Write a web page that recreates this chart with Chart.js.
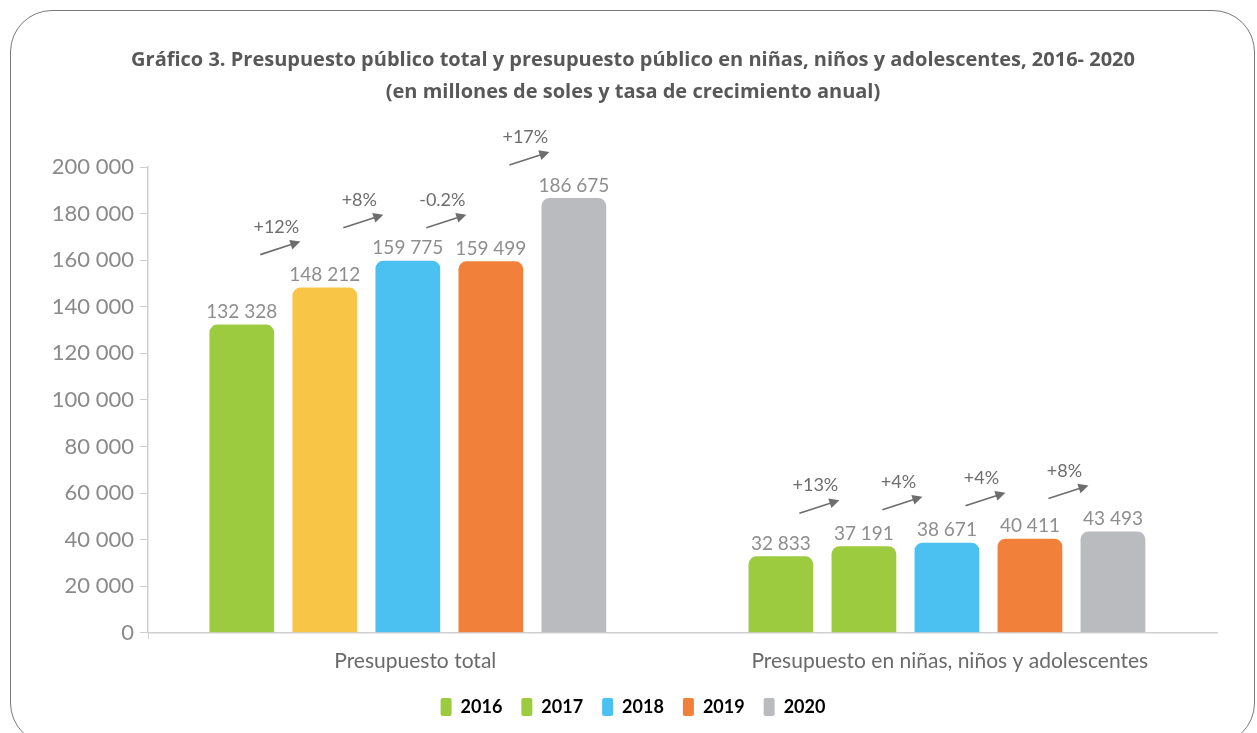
<!DOCTYPE html>
<html>
<head>
<meta charset="utf-8">
<script src="https://cdn.jsdelivr.net/npm/chart.js@4.4.1/dist/chart.umd.min.js"></script>
<style>
  html, body { margin: 0; padding: 0; background: #fff; overflow: hidden; }
  #frame {
    position: absolute; left: 10px; top: 10px; width: 1245px; height: 735px;
    border: 1.3px solid #7a7a7a; border-radius: 42px; box-sizing: border-box;
  }
  #wrap { position: absolute; left: 0; top: 0; width: 1257px; height: 733px; }
</style>
</head>
<body>
<div id="frame"></div>
<div id="wrap"><canvas id="chart"></canvas></div>
<script>
// categorias y series
const groups = ["Presupuesto total", "Presupuesto en niñas, niños y adolescentes"];
const years = ["2016", "2017", "2018", "2019", "2020"];
const v2016 = [132328, 32833];
const v2017 = [148212, 37191];
const v2018 = [159775, 38671];
const v2019 = [159499, 40411];
const v2020 = [186675, 43493];
// tasa de crecimiento anual (entre años consecutivos)
const growthTotal = ["+12%", "+8%", "-0.2%", "+17%"];
const growthNna = ["+13%", "+4%", "+4%", "+8%"];
const yTicks = [0, 20000, 40000, 60000, 80000, 100000, 120000, 140000, 160000, 180000, 200000];

const green = "#9DCB3F", yellow = "#F8C546", blue = "#4BC1F1", orange = "#F0803A", grey = "#B9BBBE";
// en el original, 2017 sale amarillo en el primer grupo y verde en el segundo
const colors = [[green, green], [yellow, green], [blue, blue], [orange, orange], [grey, grey]];
const legendColors = [green, green, blue, orange, grey];

const series = [v2016, v2017, v2018, v2019, v2020];
const fmt = n => String(n).replace(/\B(?=(\d{3})+(?!\d))/g, " ");

const labelsPlugin = {
  id: "labels",
  afterDatasetsDraw(chart) {
    const ctx = chart.ctx;
    ctx.save();
    // valores encima de las barras
    ctx.font = "19px Lato";
    ctx.fillStyle = "#8e8e8e";
    ctx.textAlign = "center";
    ctx.textBaseline = "bottom";
    chart.data.datasets.forEach((ds, i) => {
      chart.getDatasetMeta(i).data.forEach((bar, j) => {
        ctx.fillText(fmt(series[i][j]), bar.x, bar.y - 3);
      });
    });
    // flechas de crecimiento
    const growth = [growthTotal, growthNna];
    for (let j = 0; j < groups.length; j++) {
      for (let i = 0; i < years.length - 1; i++) {
        const a = chart.getDatasetMeta(i).data[j];
        const b = chart.getDatasetMeta(i + 1).data[j];
        const mid = (a.x + b.x) / 2 - 3;
        const yEnd = Math.min(a.y, b.y) - 46;
        const x0 = mid - 20, y0 = yEnd + 13, x1 = mid + 20, y1 = yEnd;
        ctx.strokeStyle = "#6d6d6d";
        ctx.fillStyle = "#6d6d6d";
        ctx.lineWidth = 1.6;
        const ang = Math.atan2(y1 - y0, x1 - x0);
        ctx.beginPath();
        ctx.moveTo(x0, y0);
        ctx.lineTo(x1 - 8 * Math.cos(ang), y1 - 8 * Math.sin(ang));
        ctx.stroke();
        ctx.beginPath();
        ctx.moveTo(x1, y1);
        ctx.lineTo(x1 - 10 * Math.cos(ang) + 5 * Math.sin(ang), y1 - 10 * Math.sin(ang) - 5 * Math.cos(ang));
        ctx.lineTo(x1 - 10 * Math.cos(ang) - 5 * Math.sin(ang), y1 - 10 * Math.sin(ang) + 5 * Math.cos(ang));
        ctx.closePath();
        ctx.fill();
        ctx.font = "18px Lato";
        ctx.fillStyle = "#6d6d6d";
        ctx.fillText(growth[j][i], mid - 4, (y0 + y1) / 2 - 12);
      }
    }
    ctx.restore();
  }
};

new Chart(document.getElementById("chart"), {
  type: "bar",
  data: {
    labels: groups,
    datasets: years.map((y, i) => ({
      label: y,
      data: series[i].map((v, j) => ({ x: j, y: v })),
      backgroundColor: colors[i],
      borderRadius: 8,
      borderSkipped: "bottom",
      xAxisID: "xb",
      categoryPercentage: 0.77,
      barPercentage: 0.78
    }))
  },
  options: {
    responsive: true,
    maintainAspectRatio: false,
    animation: false,
    layout: { padding: { left: 49, right: 40, top: 0, bottom: 7 } },
    plugins: {
      title: {
        display: true,
        text: ["Gráfico 3. Presupuesto público total y presupuesto público en niñas, niños y adolescentes, 2016- 2020",
               "(en millones de soles y tasa de crecimiento anual)"],
        color: "#585858",
        font: { family: "Open Sans", size: 20, weight: "bold", lineHeight: 1.6 },
        padding: { top: 44, bottom: 59 }
      },
      legend: {
        position: "bottom",
        labels: {
          color: "#666",
          font: { family: "Lato", size: 18, weight: "bold" },
          boxWidth: 11,
          boxHeight: 18,
          padding: 19,
          generateLabels(chart) {
            return years.map((y, i) => ({
              text: y, fillStyle: legendColors[i], strokeStyle: legendColors[i],
              lineWidth: 0, datasetIndex: i, borderRadius: 2
            }));
          }
        }
      },
      tooltip: { enabled: false }
    },
    scales: {
      x: {
        type: "category",
        grid: { display: true, drawOnChartArea: false, tickLength: 6, color: c => c.index === 0 ? "#cfcfcf" : "rgba(0,0,0,0)" },
        border: { display: true, color: "#cfcfcf", width: 1.5 },
        ticks: { color: "#6a6a6a", font: { family: "Lato", size: 21 }, padding: 10 },
        afterFit: s => { s.height -= 5; }
      },
      xb: {
        type: "linear",
        display: false,
        offset: false,
        min: -0.482,
        max: 1.501,
        afterBuildTicks: s => { s.ticks = [{ value: 0 }, { value: 1 }]; }
      },
      y: {
        min: 0,
        max: 200000,
        afterBuildTicks: s => { s.ticks = yTicks.map(v => ({ value: v })); },
        grid: { display: true, drawOnChartArea: false, tickLength: 8, color: "#cfcfcf" },
        border: { color: "#cfcfcf", width: 1.5 },
        ticks: { color: "#8a8a8a", font: { family: "Lato", size: 22 }, padding: 6, callback: v => fmt(v) },
        afterFit: s => { s.width = 99; }
      }
    }
  },
  plugins: [labelsPlugin]
});
</script>
</body>
</html>
